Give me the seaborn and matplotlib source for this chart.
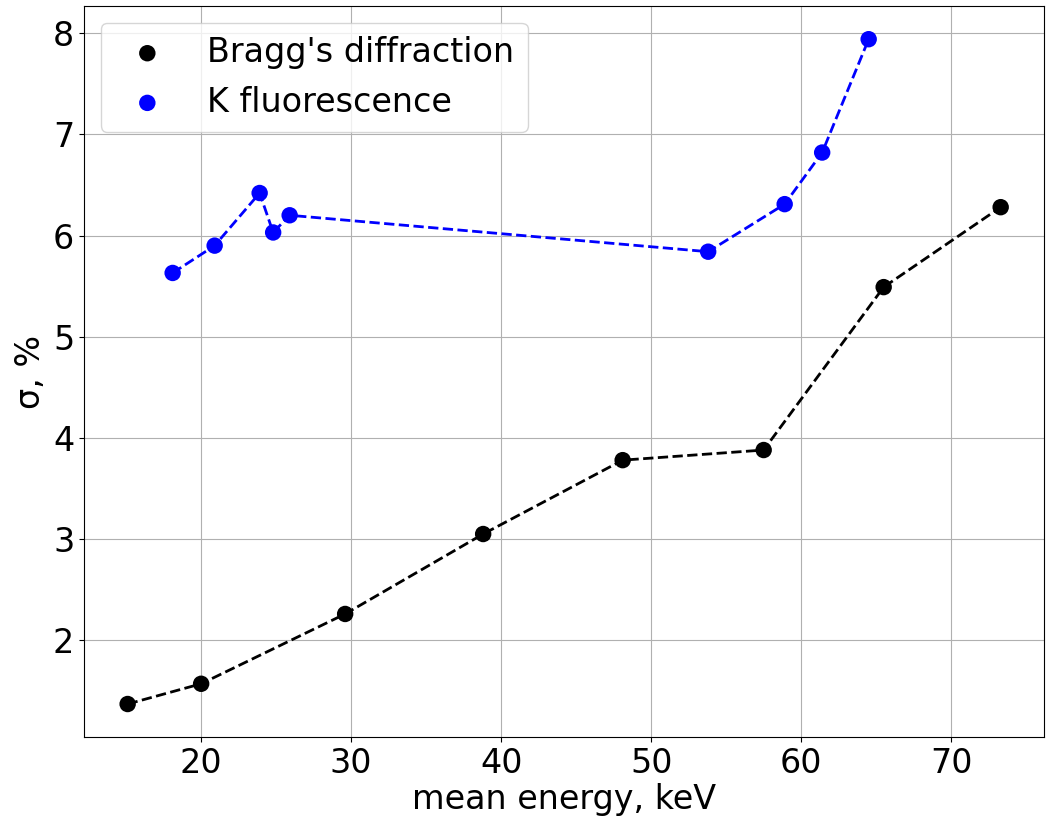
import matplotlib
matplotlib.use("Agg")
import matplotlib.pyplot as plt
import seaborn as sns
import pandas as pd

bragg_energy = [15.1, 20.0, 29.6, 38.8, 48.1, 57.5, 65.5, 73.3]
bragg_sigma = [1.37, 1.57, 2.26, 3.05, 3.78, 3.88, 5.49, 6.28]

kfl_energy = [18.1, 20.9, 23.9, 24.8, 25.9, 53.8, 58.9, 61.4, 64.5]
kfl_sigma = [5.63, 5.90, 6.42, 6.03, 6.20, 5.84, 6.31, 6.82, 7.94]

df_b = pd.DataFrame({"x": bragg_energy, "y": bragg_sigma})
df_k = pd.DataFrame({"x": kfl_energy, "y": kfl_sigma})

fig, ax = plt.subplots(figsize=(10.46, 8.17), dpi=100)
fig.subplots_adjust(left=0.0803, right=0.9984, bottom=0.0976, top=0.9927)

sns.lineplot(data=df_b, x="x", y="y", ax=ax, color="black", linestyle="--",
             linewidth=2, sort=False, legend=False)
sns.lineplot(data=df_k, x="x", y="y", ax=ax, color="blue", linestyle="--",
             linewidth=2, sort=False, legend=False)
sns.scatterplot(data=df_b, x="x", y="y", ax=ax, color="black", s=140,
                edgecolor="none", label="Bragg's diffraction", zorder=3)
sns.scatterplot(data=df_k, x="x", y="y", ax=ax, color="blue", s=140,
                edgecolor="none", label="K fluorescence", zorder=3)

ax.grid(True, color="#b0b0b0", linewidth=0.8)
ax.set_axisbelow(True)
ax.set_xlabel("mean energy, keV", fontsize=24, labelpad=2)
ax.set_ylabel("σ, %", fontsize=24)
ax.tick_params(labelsize=24)
ax.set_xticks([20, 30, 40, 50, 60, 70])
ax.set_yticks([2, 3, 4, 5, 6, 7, 8])
ax.legend(loc="upper left", fontsize=24)

fig.savefig("out.png", dpi=100)
